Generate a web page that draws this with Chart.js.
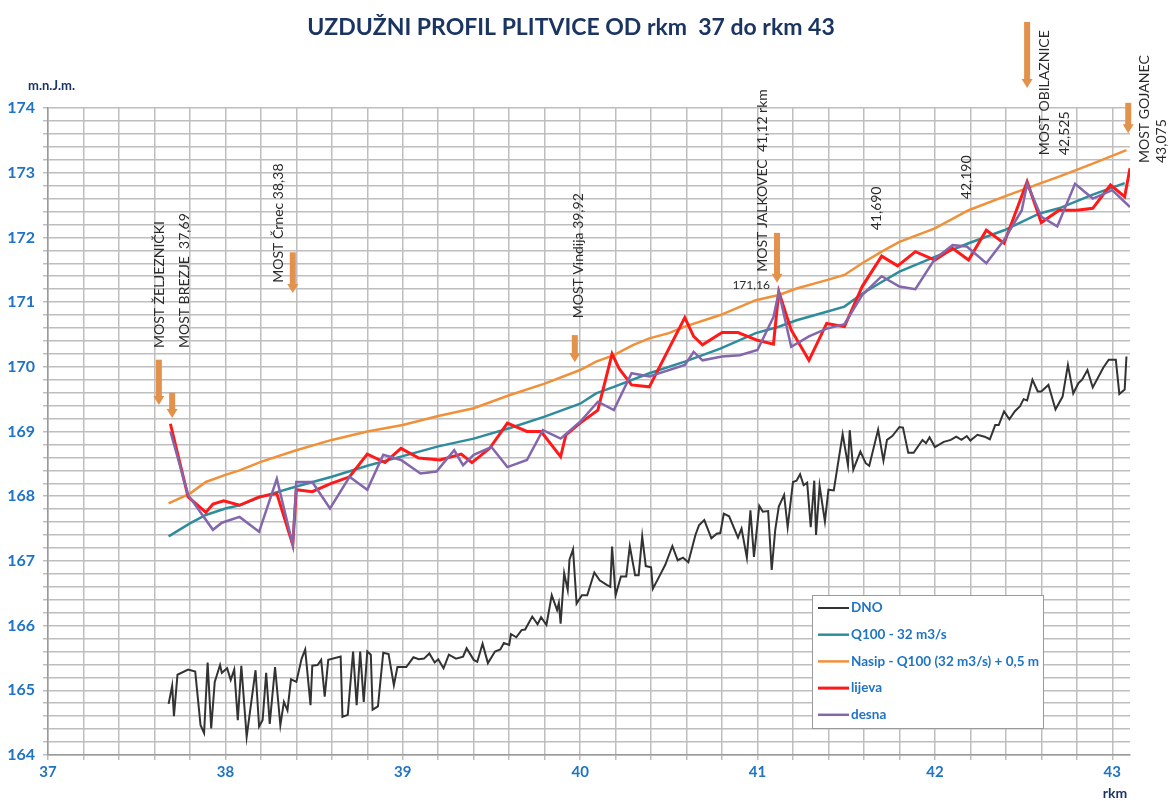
<!DOCTYPE html>
<html>
<head>
<meta charset="utf-8">
<title>Uzdužni profil Plitvice</title>
<script src="https://cdn.jsdelivr.net/npm/chart.js@4.4.1/dist/chart.umd.min.js"></script>
<style>
  html, body { margin: 0; padding: 0; background: #fff; }
  #wrap { position: relative; width: 1170px; height: 801px; }
</style>
</head>
<body>
<div id="wrap"><canvas id="profilChart"></canvas></div>
<script>
'use strict';

/* Uzdužni profil Plitvice, rkm 37 - 43
 * stacionaža u km, kote u m.n.J.m.
 */

// DNO - kota dna korita
var dnoKm = [
  37.68, 37.70, 37.71, 37.73, 37.79, 37.83, 37.86, 37.88, 37.90, 37.92, 37.94, 37.97, 37.98,
  38.01, 38.03, 38.05, 38.07, 38.09, 38.12, 38.17, 38.19, 38.21, 38.23, 38.25, 38.28, 38.31,
  38.33, 38.35, 38.37, 38.40, 38.43, 38.45, 38.48, 38.49, 38.52, 38.54, 38.56, 38.58, 38.65,
  38.66, 38.69, 38.72, 38.74, 38.76, 38.78, 38.80, 38.82, 38.83, 38.86, 38.89, 38.92, 38.95,
  38.97, 39.02, 39.06, 39.09, 39.12, 39.15, 39.18, 39.20, 39.23, 39.26, 39.30, 39.34, 39.36,
  39.40, 39.42, 39.45, 39.48, 39.52, 39.55, 39.57, 39.60, 39.61, 39.64, 39.67, 39.69, 39.73,
  39.76, 39.78, 39.81, 39.84, 39.87, 39.88, 39.89, 39.91, 39.93, 39.94, 39.96, 39.98, 40.01,
  40.04, 40.08, 40.11, 40.15, 40.17, 40.18, 40.20, 40.23, 40.26, 40.28, 40.31, 40.33, 40.35,
  40.37, 40.40, 40.41, 40.45, 40.48, 40.52, 40.55, 40.58, 40.61, 40.65, 40.67, 40.70, 40.74,
  40.77, 40.79, 40.81, 40.84, 40.89, 40.91, 40.94, 40.96, 40.98, 41.01, 41.03, 41.06, 41.08,
  41.10, 41.12, 41.15, 41.17, 41.20, 41.22, 41.24, 41.26, 41.28, 41.30, 41.32, 41.33, 41.35,
  41.38, 41.40, 41.43, 41.48, 41.51, 41.52, 41.54, 41.58, 41.61, 41.63, 41.68, 41.71, 41.73,
  41.76, 41.80, 41.82, 41.85, 41.88, 41.93, 41.95, 41.97, 42.00, 42.05, 42.09, 42.12, 42.15,
  42.18, 42.20, 42.24, 42.28, 42.31, 42.34, 42.36, 42.39, 42.42, 42.45, 42.48, 42.50, 42.52,
  42.55, 42.58, 42.60, 42.64, 42.68, 42.72, 42.75, 42.78, 42.81, 42.83, 42.86, 42.89, 42.95,
  42.98, 43.02, 43.04, 43.07, 43.08
];
var dnoKota = [
  164.79, 165.07, 164.60, 165.24, 165.32, 165.29, 164.46, 164.34, 165.43, 164.41, 165.13, 165.39, 165.27,
  165.34, 165.16, 165.32, 164.54, 165.38, 164.28, 165.31, 164.44, 164.54, 165.27, 164.48, 165.36, 164.46,
  164.82, 164.69, 165.17, 165.13, 165.49, 165.63, 164.77, 165.38, 165.39, 165.47, 164.90, 165.47, 165.52,
  164.59, 164.62, 165.60, 164.77, 165.60, 164.82, 165.60, 165.55, 164.70, 164.75, 165.58, 165.56, 165.08,
  165.36, 165.36, 165.51, 165.48, 165.49, 165.57, 165.43, 165.48, 165.34, 165.55, 165.49, 165.52, 165.65,
  165.47, 165.44, 165.72, 165.42, 165.60, 165.63, 165.73, 165.70, 165.87, 165.82, 165.93, 165.94, 166.14,
  166.02, 166.13, 166.01, 166.47, 166.24, 166.35, 166.03, 166.81, 166.55, 167.02, 167.18, 166.34, 166.47,
  166.47, 166.82, 166.70, 166.63, 166.60, 167.22, 166.47, 166.76, 166.76, 167.23, 166.78, 166.78, 167.38,
  166.92, 166.90, 166.57, 166.78, 166.94, 167.23, 167.01, 167.05, 166.98, 167.40, 167.55, 167.63, 167.35,
  167.42, 167.43, 167.73, 167.69, 167.36, 167.50, 167.05, 167.78, 167.06, 167.85, 167.76, 167.77, 166.86,
  167.48, 167.84, 168.02, 167.52, 168.22, 168.24, 168.34, 168.17, 168.21, 167.52, 168.24, 167.40, 168.16,
  167.61, 168.10, 168.09, 168.96, 168.48, 169.02, 168.41, 168.69, 168.51, 168.47, 169.03, 168.55, 168.87,
  168.93, 169.07, 169.06, 168.67, 168.67, 168.87, 168.82, 168.91, 168.76, 168.84, 168.87, 168.92, 168.87,
  168.93, 168.86, 168.95, 168.92, 168.88, 169.10, 169.10, 169.31, 169.19, 169.31, 169.39, 169.50, 169.48,
  169.80, 169.62, 169.62, 169.72, 169.34, 169.54, 170.03, 169.59, 169.75, 169.80, 169.95, 169.68, 169.99,
  170.11, 170.11, 169.58, 169.65, 170.16
];

// Q100 - 32 m3/s
var q100Km = [
  37.68, 37.80, 37.89, 38.00, 38.08, 38.20, 38.40, 38.60, 38.80, 39.00, 39.20, 39.40, 39.60,
  39.80, 40.00, 40.09, 40.19, 40.39, 40.59, 40.79, 40.99, 41.12, 41.22, 41.39, 41.49, 41.59,
  41.70, 41.80, 42.00, 42.19, 42.39, 42.59, 42.70, 42.89, 43.07
];
var q100Kota = [
  167.38, 167.58, 167.71, 167.81, 167.86, 167.99, 168.15, 168.30, 168.47, 168.62, 168.77, 168.89, 169.05,
  169.23, 169.43, 169.59, 169.69, 169.90, 170.08, 170.28, 170.52, 170.62, 170.72, 170.85, 170.93, 171.13,
  171.31, 171.47, 171.70, 171.91, 172.11, 172.37, 172.45, 172.66, 172.84
];

// Nasip - Q100 + 0,5 m
var nasipKm = [
  37.68, 37.80, 37.89, 38.00, 38.08, 38.20, 38.40, 38.60, 38.80, 39.00, 39.20, 39.40, 39.60,
  39.80, 40.00, 40.09, 40.19, 40.30, 40.39, 40.50, 40.59, 40.79, 40.99, 41.12, 41.22, 41.39,
  41.49, 41.59, 41.70, 41.80, 42.00, 42.19, 42.39, 42.59, 42.70, 42.89, 43.08
];
var nasipKota = [
  167.89, 168.04, 168.22, 168.33, 168.40, 168.53, 168.71, 168.87, 169.00, 169.10, 169.24, 169.36, 169.56,
  169.74, 169.95, 170.08, 170.18, 170.34, 170.44, 170.52, 170.62, 170.80, 171.03, 171.11, 171.21, 171.34,
  171.42, 171.60, 171.78, 171.93, 172.14, 172.42, 172.63, 172.83, 172.94, 173.14, 173.35
];

// lijeva obala
var lijevaKm = [
  37.69, 37.79, 37.89, 37.93, 37.99, 38.08, 38.19, 38.29, 38.38, 38.40, 38.49, 38.59, 38.70,
  38.80, 38.90, 38.99, 39.09, 39.21, 39.33, 39.39, 39.49, 39.59, 39.70, 39.78, 39.89, 39.92,
  40.00, 40.10, 40.18, 40.22, 40.29, 40.39, 40.59, 40.64, 40.69, 40.80, 40.89, 41.00, 41.09,
  41.12, 41.19, 41.29, 41.39, 41.49, 41.59, 41.70, 41.79, 41.89, 42.00, 42.10, 42.19, 42.29,
  42.39, 42.52, 42.60, 42.70, 42.80, 42.89, 42.99, 43.07, 43.10
];
var lijevaKota = [
  169.12, 167.99, 167.75, 167.88, 167.93, 167.86, 167.99, 168.04, 167.25, 168.10, 168.07, 168.19, 168.30,
  168.65, 168.52, 168.74, 168.59, 168.56, 168.65, 168.52, 168.74, 169.13, 169.00, 169.00, 168.61, 168.95,
  169.13, 169.33, 170.20, 169.97, 169.72, 169.69, 170.76, 170.47, 170.34, 170.53, 170.53, 170.41, 170.35,
  171.16, 170.57, 170.10, 170.67, 170.62, 171.24, 171.71, 171.56, 171.78, 171.65, 171.83, 171.65, 172.11,
  171.91, 172.86, 172.23, 172.42, 172.42, 172.45, 172.81, 172.63, 173.07
];

// desna obala
var desnaKm = [
  37.69, 37.79, 37.93, 37.98, 38.08, 38.19, 38.29, 38.38, 38.40, 38.49, 38.59, 38.70, 38.80,
  38.89, 38.99, 39.10, 39.19, 39.29, 39.34, 39.40, 39.50, 39.59, 39.70, 39.79, 39.89, 40.00,
  40.10, 40.19, 40.29, 40.39, 40.59, 40.64, 40.69, 40.80, 40.90, 41.00, 41.09, 41.12, 41.19,
  41.29, 41.39, 41.49, 41.59, 41.70, 41.80, 41.89, 42.00, 42.10, 42.18, 42.29, 42.39, 42.49,
  42.52, 42.60, 42.69, 42.79, 42.89, 43.00, 43.10
];
var desnaKota = [
  169.00, 168.02, 167.48, 167.59, 167.68, 167.45, 168.27, 167.25, 168.22, 168.22, 167.81, 168.30, 168.10,
  168.64, 168.56, 168.35, 168.38, 168.71, 168.48, 168.64, 168.76, 168.45, 168.56, 169.02, 168.89, 169.15,
  169.46, 169.33, 169.90, 169.85, 170.03, 170.23, 170.10, 170.16, 170.18, 170.26, 170.77, 171.16, 170.31,
  170.47, 170.59, 170.66, 171.11, 171.40, 171.24, 171.20, 171.67, 171.88, 171.86, 171.60, 171.96, 172.42,
  172.83, 172.32, 172.17, 172.83, 172.60, 172.73, 172.47
];

// mostovi i oznake stacionaže (okomiti tekst)
var oznake = [
  { text: 'MOST ŽELJEZNIČKI', km: 37.63, kota: 170.29 },
  { text: 'MOST BREZJE  37,69', km: 37.77, kota: 170.29 },
  { text: 'MOST Črnec 38,38', km: 38.30, kota: 171.30 },
  { text: 'MOST Vindija 39,92', km: 39.99, kota: 170.75 },
  { text: 'MOST JALKOVEC  41,12 rkm', km: 41.03, kota: 171.47 },
  { text: '41,690', km: 41.67, kota: 172.11 },
  { text: '42,190', km: 42.18, kota: 172.59 },
  { text: 'MOST OBILAZNICE', km: 42.62, kota: 173.27 },
  { text: '42,525', km: 42.73, kota: 173.27 },
  { text: 'MOST GOJANEC', km: 43.18, kota: 173.15 },
  { text: '43,075', km: 43.28, kota: 173.15 }
];

// strelice iznad mostova
var strelice = [
  { km: 37.625, od: 170.11, 'do': 169.41 },
  { km: 37.70, od: 169.60, 'do': 169.21 },
  { km: 38.38, od: 171.77, 'do': 171.14 },
  { km: 39.97, od: 170.49, 'do': 170.07 },
  { km: 41.11, od: 172.07, 'do': 171.30 },
  { km: 42.52, od: 175.33, 'do': 174.31 },
  { km: 43.09, od: 174.08, 'do': 173.61 }
];

var NAVY = '#1b3563';
var BLUE = '#1f74c4';
var FONT = 'Lato, "Open Sans", sans-serif';

function tocke(km, kota) {
  return km.map(function (x, i) { return { x: x, y: kota[i] }; });
}

function cijeli(v) {
  return Math.abs(v - Math.round(v)) < 1e-6;
}

var dodaci = {
  id: 'profilDodaci',
  afterDraw: function (chart) {
    var ctx = chart.ctx;
    var xs = chart.scales.x;
    var ys = chart.scales.y;
    ctx.save();

    // naslov i jedinice
    ctx.fillStyle = NAVY;
    ctx.textAlign = 'center';
    ctx.textBaseline = 'middle';
    ctx.font = 'bold 23px ' + FONT;
    ctx.fillText('UZDUŽNI PROFIL PLITVICE OD rkm  37 do rkm 43', 571, 28);
    ctx.font = 'bold 13px ' + FONT;
    ctx.textAlign = 'left';
    ctx.fillText('m.n.J.m.', 28, 86);
    ctx.font = 'bold 14px ' + FONT;
    ctx.textAlign = 'center';
    ctx.fillText('rkm', 1115, 793);

    // strelice
    ctx.fillStyle = '#e3924b';
    strelice.forEach(function (s) {
      var x = xs.getPixelForValue(s.km);
      var y1 = ys.getPixelForValue(s.od);
      var y2 = ys.getPixelForValue(s['do']);
      ctx.fillRect(x - 3, y1, 6, y2 - y1 - 8);
      ctx.beginPath();
      ctx.moveTo(x - 5.5, y2 - 9);
      ctx.lineTo(x + 5.5, y2 - 9);
      ctx.lineTo(x, y2);
      ctx.closePath();
      ctx.fill();
    });

    // okomiti natpisi
    ctx.fillStyle = '#2b2b2b';
    ctx.font = '14px ' + FONT;
    ctx.textAlign = 'left';
    ctx.textBaseline = 'middle';
    oznake.forEach(function (o) {
      ctx.save();
      ctx.translate(xs.getPixelForValue(o.km), ys.getPixelForValue(o.kota));
      ctx.rotate(-Math.PI / 2);
      ctx.fillText(o.text, 0, 0);
      ctx.restore();
    });

    // kota vrha kod mosta Jalkovec
    ctx.font = '12px ' + FONT;
    ctx.textAlign = 'right';
    ctx.fillText('171,16', xs.getPixelForValue(41.07), ys.getPixelForValue(171.26));

    // legenda
    var lx = 812, ly = 595, lw = 231, lh = 133;
    ctx.fillStyle = '#fff';
    ctx.fillRect(lx, ly, lw, lh);
    ctx.strokeStyle = '#9a9a9a';
    ctx.lineWidth = 1;
    ctx.strokeRect(lx + 0.5, ly + 0.5, lw, lh);
    ctx.font = 'bold 13.5px ' + FONT;
    ctx.textAlign = 'left';
    chart.data.datasets.forEach(function (ds, i) {
      var y = ly + 13 + i * 26.7;
      ctx.strokeStyle = ds.borderColor;
      ctx.lineWidth = ds.borderWidth;
      ctx.beginPath();
      ctx.moveTo(lx + 6, y);
      ctx.lineTo(lx + 37, y);
      ctx.stroke();
      ctx.fillStyle = BLUE;
      ctx.fillText(ds.label, lx + 39, y);
    });

    ctx.restore();
  }
};

var ctx = document.getElementById('profilChart');

new Chart(ctx, {
  type: 'line',
  data: {
    datasets: [
      {
        label: 'DNO',
        data: tocke(dnoKm, dnoKota),
        borderColor: '#333333',
        borderWidth: 2,
        order: 5
      },
      {
        label: 'Q100 - 32 m3/s',
        data: tocke(q100Km, q100Kota),
        borderColor: '#2f8c9c',
        borderWidth: 2.5,
        order: 4
      },
      {
        label: 'Nasip - Q100 (32 m3/s) + 0,5 m',
        data: tocke(nasipKm, nasipKota),
        borderColor: '#f0913a',
        borderWidth: 2.5,
        order: 3
      },
      {
        label: 'lijeva',
        data: tocke(lijevaKm, lijevaKota),
        borderColor: '#ff1a1a',
        borderWidth: 3,
        order: 2
      },
      {
        label: 'desna',
        data: tocke(desnaKm, desnaKota),
        borderColor: '#8466ad',
        borderWidth: 2.5,
        order: 1
      }
    ]
  },
  options: {
    responsive: true,
    maintainAspectRatio: false,
    animation: false,
    layout: {
      padding: { left: 0, right: 40, top: 108, bottom: 0 }
    },
    elements: {
      point: { radius: 0 },
      line: { tension: 0, fill: false }
    },
    plugins: {
      legend: { display: false },
      tooltip: { enabled: false },
      title: { display: false }
    },
    scales: {
      x: {
        type: 'linear',
        min: 37,
        max: 43.1,
        afterFit: function (scale) { scale.height = 46; },
        grid: { color: '#bebebe', lineWidth: 1.5, tickLength: 5 },
        border: { color: '#9a9a9a', width: 1.5 },
        ticks: {
          stepSize: 0.2,
          autoSkip: false,
          includeBounds: false,
          maxRotation: 0,
          padding: 3,
          color: BLUE,
          font: { family: FONT, size: 15, weight: 'bold' },
          callback: function (v) { return cijeli(v) ? String(Math.round(v)) : ''; }
        }
      },
      y: {
        min: 164,
        max: 174,
        afterFit: function (scale) { scale.width = 48; },
        grid: { color: '#bebebe', lineWidth: 1.5, tickLength: 5 },
        border: { color: '#9a9a9a', width: 1.5 },
        ticks: {
          stepSize: 0.2,
          autoSkip: false,
          padding: 8,
          color: BLUE,
          font: { family: FONT, size: 16, weight: 'bold' },
          callback: function (v) { return cijeli(v) ? String(Math.round(v)) : ''; }
        }
      }
    }
  },
  plugins: [dodaci]
});
</script>
</body>
</html>
